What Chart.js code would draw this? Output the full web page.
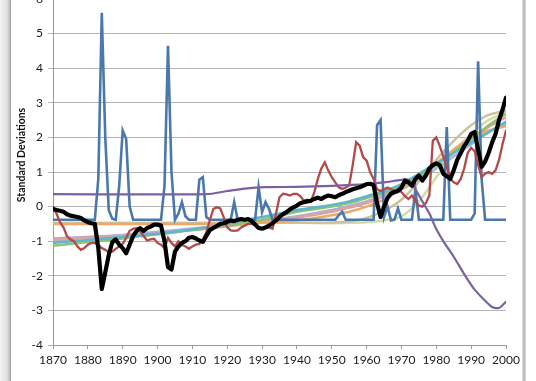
<!DOCTYPE html>
<html>
<head>
<meta charset="utf-8">
<script src="https://cdn.jsdelivr.net/npm/chart.js@4.4.1/dist/chart.umd.min.js"></script>
<style>
  html, body { margin: 0; padding: 0; background: #fff; width: 536px; height: 381px; overflow: hidden; position: relative; }
  #shadowL { position: absolute; left: 0; top: 0; width: 11px; height: 381px;
    background: linear-gradient(to right, #f2f2f2 0%, #e2e2e2 60%, #c4c4c4 85%, #9a9a9a 100%); }
  #edgeR { position: absolute; left: 522px; top: 0; width: 4px; height: 381px;
    background: linear-gradient(to right, #e6e6e6, #b5b5b5, #dedede); }
  #wrap { position: absolute; left: 0; top: -20px; width: 536px; height: 401px; }
</style>
</head>
<body>
<div id="shadowL"></div>
<div id="edgeR"></div>
<div id="wrap"><canvas id="c" width="536" height="401"></canvas></div>
<script>
// ---------- categories ----------
const firstYear = 1870, lastYear = 2000;
const years = Array.from({length: lastYear - firstYear + 1}, (_, i) => firstYear + i);
const xTicks = [1870,1880,1890,1900,1910,1920,1930,1940,1950,1960,1970,1980,1990,2000];
const yTicks = [-4,-3,-2,-1,0,1,2,3,4,5,6];
const yTitle = 'Standard Deviations';

// ---------- annual series (1870..2000) ----------
const blackSeries = [
  -0.07,-0.10,-0.12,-0.15,-0.22,-0.26,-0.28,-0.30,-0.33,-0.40,
  -0.45,-0.48,-0.50,-1.20,-2.38,-1.90,-1.40,-1.03,-0.95,-1.10,
  -1.20,-1.35,-1.10,-0.85,-0.70,-0.62,-0.70,-0.62,-0.58,-0.52,
  -0.52,-0.55,-1.00,-1.75,-1.82,-1.30,-1.15,-1.05,-1.00,-0.90,
  -0.88,-0.92,-0.98,-1.02,-0.85,-0.68,-0.62,-0.56,-0.50,-0.48,
  -0.44,-0.40,-0.42,-0.38,-0.36,-0.38,-0.36,-0.42,-0.52,-0.62,
  -0.64,-0.60,-0.55,-0.48,-0.40,-0.30,-0.22,-0.16,-0.08,-0.02,
   0.03, 0.10, 0.13, 0.15, 0.17, 0.22, 0.26, 0.22, 0.28, 0.32,
   0.30, 0.27, 0.33, 0.37, 0.42, 0.46, 0.50, 0.53, 0.56, 0.60,
   0.65, 0.66, 0.62, 0.10,-0.30, 0.00, 0.25, 0.38, 0.42, 0.45,
   0.55, 0.75, 0.70, 0.60, 0.80, 0.90, 0.75, 0.90, 1.10, 1.20,
   1.25, 1.20, 0.95, 0.88, 0.80, 1.05, 1.35, 1.55, 1.75, 1.90,
   2.10, 2.15, 1.65, 1.15, 1.30, 1.55, 1.85, 2.10, 2.50, 2.80,
   3.15
];
const blueSeries = [
  -0.38,-0.38,-0.38,-0.38,-0.38,-0.38,-0.38,-0.38,-0.38,-0.38,
  -0.38,-0.38,-0.38, 0.80, 5.60, 2.00,-0.10,-0.35,-0.38, 0.60,
   2.20, 1.95, 0.00,-0.38,-0.38,-0.38,-0.38,-0.38,-0.38,-0.38,
  -0.38,-0.38, 0.60, 4.65, 1.00,-0.38,-0.20, 0.13,-0.28,-0.38,
  -0.38,-0.38, 0.78, 0.85,-0.30,-0.38,-0.38,-0.38,-0.38,-0.38,
  -0.38,-0.38, 0.13,-0.38,-0.38,-0.38,-0.38,-0.38,-0.38, 0.56,
  -0.16, 0.13,-0.07,-0.38,-0.38,-0.38,-0.38,-0.38,-0.38,-0.38,
  -0.38,-0.38,-0.38,-0.38,-0.38,-0.38,-0.38,-0.38,-0.38,-0.38,
  -0.38,-0.38,-0.25,-0.15,-0.38,-0.38,-0.38,-0.38,-0.38,-0.38,
  -0.38,-0.38,-0.38, 2.35, 2.50,-0.30, 0.00,-0.40,-0.38,-0.05,
  -0.38,-0.38,-0.38,-0.38, 0.50,-0.38,-0.38,-0.38,-0.38,-0.38,
  -0.38,-0.38,-0.38, 2.30,-0.38,-0.38,-0.38,-0.38,-0.38,-0.38,
  -0.38,-0.20, 4.20, 0.80,-0.38,-0.38,-0.38,-0.38,-0.38,-0.38,
  -0.38
];
const redSeries = [
   0.00,-0.20,-0.45,-0.60,-0.85,-0.95,-1.00,-1.15,-1.25,-1.20,
  -1.10,-1.05,-1.05,-1.10,-1.20,-1.25,-1.32,-1.30,-1.22,-1.15,
  -1.08,-0.90,-0.70,-0.64,-0.62,-0.70,-0.85,-0.98,-0.95,-0.93,
  -1.05,-1.10,-1.20,-0.90,-1.05,-1.15,-1.00,-1.10,-1.15,-1.22,
  -1.15,-1.10,-1.08,-0.95,-0.74,-0.40,-0.07,-0.02,-0.05,-0.31,
  -0.60,-0.69,-0.70,-0.69,-0.60,-0.55,-0.50,-0.50,-0.54,-0.60,
  -0.64,-0.62,-0.60,-0.64,-0.20, 0.27, 0.37, 0.35, 0.32, 0.37,
   0.37, 0.30, 0.17, 0.20, 0.15, 0.42, 0.80, 1.10, 1.28, 1.04,
   0.85, 0.70, 0.56, 0.51, 0.55, 0.61, 1.20, 1.86, 1.76, 1.43,
   1.33, 1.00, 0.80, 0.50, 0.45, 0.50, 0.55, 0.50, 0.45, 0.50,
   0.42, 0.30, 0.22, 0.32, 0.15, 0.03, 0.00, 0.10, 0.32, 1.90,
   2.00, 1.75, 1.45, 1.15, 0.80, 0.70, 0.65, 0.80, 1.10, 1.55,
   1.70, 1.60, 1.20, 0.85, 0.95, 1.00, 0.95, 1.05, 1.35, 1.80,
   2.20
];

// ---------- purple series (read at key years) ----------
const purpleYears  = [1870,1914,1920,1925,1931,1940,1950,1960,1965,1970,1972,1974,1976,1978,1980,1982,1985,1988,1991,1994,1996,1998,1999,2000];
const purpleValues = [0.36,0.36,0.45,0.52,0.56,0.57,0.60,0.65,0.70,0.77,0.78,0.50,0.15,-0.20,-0.65,-1.00,-1.45,-1.95,-2.40,-2.72,-2.90,-2.93,-2.85,-2.75];

// ---------- smooth trend curves (read at key years) ----------
const trendYears  = [1870,1890,1910,1930,1940,1950,1955,1960,1965,1970,1975,1980,1985,1990,1995,2000];
const trendGray   = [-0.98,-0.82,-0.63,-0.42,-0.30,-0.12,-0.02,0.12,0.30,0.50,0.78,1.10,1.45,1.80,2.15,2.45];
const trendPink   = [-0.95,-0.85,-0.68,-0.45,-0.32,-0.15,-0.03,0.10,0.30,0.55,0.85,1.20,1.58,1.95,2.30,2.58];
const trendLav    = [-0.92,-0.83,-0.66,-0.43,-0.28,-0.10,0.02,0.15,0.35,0.60,0.90,1.25,1.60,1.90,2.15,2.38];
const trendGreen  = [-1.13,-0.92,-0.68,-0.38,-0.15,0.00,0.10,0.25,0.40,0.60,0.88,1.20,1.58,1.95,2.35,2.68];
const trendTeal   = [-1.05,-0.88,-0.66,-0.30,-0.10,0.05,0.15,0.30,0.45,0.65,0.95,1.25,1.55,1.85,2.15,2.45];
const trendOrange = [-0.50,-0.50,-0.50,-0.47,-0.40,-0.25,-0.15,0.00,0.20,0.50,0.85,1.25,1.65,2.00,2.20,2.32];
const trendTan    = [-0.48,-0.48,-0.48,-0.47,-0.47,-0.46,-0.43,-0.33,-0.12,0.20,0.72,1.35,1.90,2.35,2.65,2.77];
const trendOlive  = [-0.47,-0.47,-0.47,-0.47,-0.47,-0.48,-0.47,-0.45,-0.40,-0.28,0.15,0.85,1.55,2.10,2.50,2.72];

// ---------- build datasets ----------
const pts = (xs, ys) => xs.map((x, i) => ({x: x, y: ys[i]}));
const trend = (vals, color, order) => ({
  data: pts(trendYears, vals), borderColor: color, borderWidth: 2.5,
  pointRadius: 0, cubicInterpolationMode: 'monotone', order: order
});

const datasets = [
  { data: pts(years, blackSeries), borderColor: '#000000', borderWidth: 4.2, pointRadius: 0, tension: 0, order: 0, borderJoinStyle: 'round' },
  { data: pts(purpleYears, purpleValues), borderColor: '#7b61a1', borderWidth: 2.2, pointRadius: 0, tension: 0.3, order: 1 },
  { data: pts(years, redSeries), borderColor: '#b24a49', borderWidth: 2.3, pointRadius: 0, tension: 0, order: 2 },
  { data: pts(years, blueSeries), borderColor: '#4a78ad', borderWidth: 2.6, pointRadius: 0, tension: 0, order: 3 },
  trend(trendTeal,   '#5cb6cc', 4),
  trend(trendGreen,  '#8cc46e', 5),
  trend(trendOrange, '#f2a766', 6),
  trend(trendPink,   '#dba3a1', 7),
  trend(trendLav,    '#b9aad0', 8),
  trend(trendGray,   '#a6b8d4', 9),
  trend(trendTan,    '#cdc29c', 10),
  trend(trendOlive,  '#d3dca6', 11)
];

const titlePlugin = {
  id: 'yTitle',
  afterDraw(chart) {
    const ctx = chart.ctx;
    ctx.save();
    ctx.translate(22, 175);
    ctx.rotate(-Math.PI / 2);
    ctx.font = 'bold 10.5px Lato, "Open Sans", sans-serif';
    ctx.fillStyle = '#111';
    ctx.textAlign = 'center';
    ctx.textBaseline = 'middle';
    ctx.fillText(yTitle, 0, 0);
    ctx.restore();
  }
};

new Chart(document.getElementById('c'), {
  type: 'line',
  data: { datasets: datasets },
  plugins: [titlePlugin],
  options: {
    responsive: false,
    animation: false,
    devicePixelRatio: 1,
    layout: { padding: { top: 19, right: 30, left: 0, bottom: 0 } },
    plugins: { legend: { display: false }, tooltip: { enabled: false } },
    elements: { line: { borderCapStyle: 'round' } },
    scales: {
      x: {
        type: 'linear', min: firstYear, max: lastYear,
        afterBuildTicks: (s) => { s.ticks = xTicks.map(v => ({value: v})); },
        afterFit: (s) => { s.height = 36; },
        grid: { drawOnChartArea: false, drawTicks: true, tickLength: 4, color: '#999' },
        border: { color: '#999', width: 1 },
        ticks: { color: '#1a1a1a', font: { family: 'Lato, "Open Sans", sans-serif', size: 12 }, padding: 4, maxRotation: 0, autoSkip: false,
                 callback: (v) => String(v) }
      },
      y: {
        min: -4, max: 6,
        afterBuildTicks: (s) => { s.ticks = yTicks.map(v => ({value: v})); },
        afterFit: (s) => { s.width = 53; },
        grid: { color: '#b4b4b4', tickLength: 5, drawTicks: true },
        border: { color: '#999', width: 1 },
        ticks: { color: '#1a1a1a', font: { family: 'Lato, "Open Sans", sans-serif', size: 12 }, padding: 5,
                 callback: (v) => String(v) }
      }
    }
  }
});
</script>
</body>
</html>
